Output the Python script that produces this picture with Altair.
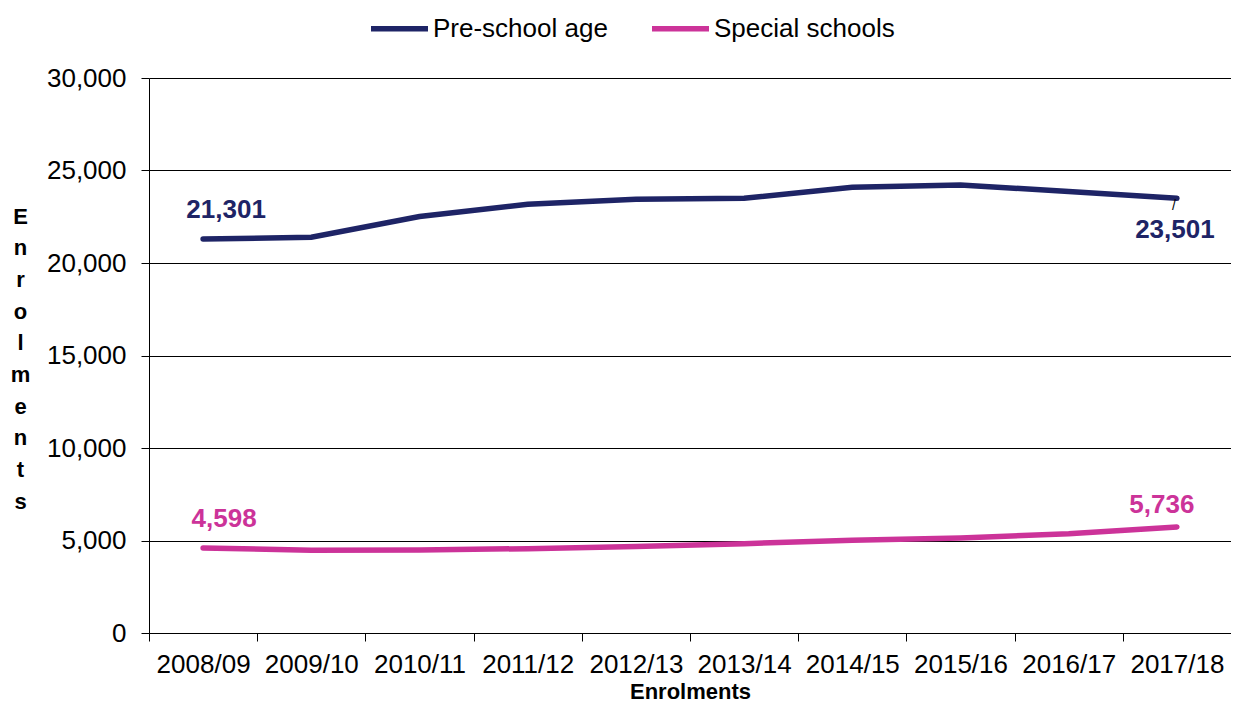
import altair as alt
import pandas as pd

years = ["2008/09", "2009/10", "2010/11", "2011/12", "2012/13",
         "2013/14", "2014/15", "2015/16", "2016/17", "2017/18"]
preschool = [21301, 21390, 22510, 23180, 23450, 23500, 24100, 24220, 23860, 23501]
special = [4598, 4470, 4490, 4560, 4670, 4830, 5010, 5140, 5370, 5736]
series_names = ["Pre-school age", "Special schools"]
colors = ["#1E2466", "#CC3399"]

rows = []
for y, a, b in zip(years, preschool, special):
    rows.append({"year": y, "series": series_names[0], "value": a})
    rows.append({"year": y, "series": series_names[1], "value": b})
df = pd.DataFrame(rows)

FONT = "Liberation Sans"

xenc = alt.X("year:N", sort=years, bandPosition=0.5,
             scale=alt.Scale(type="band", paddingInner=0, paddingOuter=0),
             axis=alt.Axis(title="Enrolments", tickBand="extent", labelAngle=0,
                           labelFontSize=26, labelColor="#000", labelPadding=10,
                           tickColor="#000", tickSize=8, domainColor="#000",
                           titleFontSize=22, titleFontWeight="bold", titleColor="#000",
                           titlePadding=4, grid=False))
yenc = alt.Y("value:Q", scale=alt.Scale(domain=[0, 30000], nice=False),
             axis=alt.Axis(values=[0, 5000, 10000, 15000, 20000, 25000, 30000],
                           format=",d", labelFontSize=26, labelColor="#000",
                           labelPadding=15, tickColor="#000", tickSize=8,
                           domainColor="#000", gridColor="#000", gridOpacity=1,
                           title=list("Enrolments"), titleAngle=0,
                           titleFontSize=22, titleFontWeight="bold", titleColor="#000",
                           titleLineHeight=31.7, titleAlign="center",
                           titleBaseline="top", titleX=-129, titleY=128))

lines = alt.Chart(df).mark_line(strokeWidth=5.5, strokeCap="round").encode(
    x=xenc, y=yenc,
    color=alt.Color("series:N", sort=series_names,
                    scale=alt.Scale(domain=series_names, range=colors),
                    legend=alt.Legend(title=None, orient="none", direction="horizontal",
                                      legendX=219, legendY=-81,
                                      symbolType="stroke", symbolSize=3249,
                                      symbolStrokeWidth=5.5, labelFontSize=26,
                                      labelColor="#000", columnPadding=33,
                                      labelOffset=2, symbolOffset=0,
                                      labelLimit=300)),
)


def label(series_idx, year_idx, value, dx, dy):
    d = pd.DataFrame({"year": [years[year_idx]], "value": [value]})
    return alt.Chart(d).mark_text(fontSize=26, fontWeight="bold",
                                  color=colors[series_idx], dx=dx, dy=dy,
                                  font=FONT).encode(
        x=alt.X("year:N", sort=years, bandPosition=0.5),
        y="value:Q",
        text=alt.Text("value:Q", format=",d"),
    )


labels = [
    label(0, 0, preschool[0], 23, -29),
    label(0, 9, preschool[9], -2, 32),
    label(1, 0, special[0], 21, -29),
    label(1, 9, special[9], -15, -22),
]

leader_df = pd.DataFrame({"year": [years[9]], "value": [preschool[9]]})
leader = alt.Chart(leader_df).mark_text(text="/", fontSize=14, color="#000",
                                        dx=-3, dy=8, font=FONT).encode(
    x=alt.X("year:N", sort=years, bandPosition=0.5),
    y="value:Q",
)

chart = alt.layer(lines, leader, *labels).properties(
    width=1082, height=555,
    autosize=alt.AutoSizeParams(type="none"),
    padding={"left": 141, "top": 70, "right": 0, "bottom": 70},
).configure(font=FONT).configure_view(stroke=None)

chart.save("out.html", embed_options={"renderer": "svg", "actions": False})
